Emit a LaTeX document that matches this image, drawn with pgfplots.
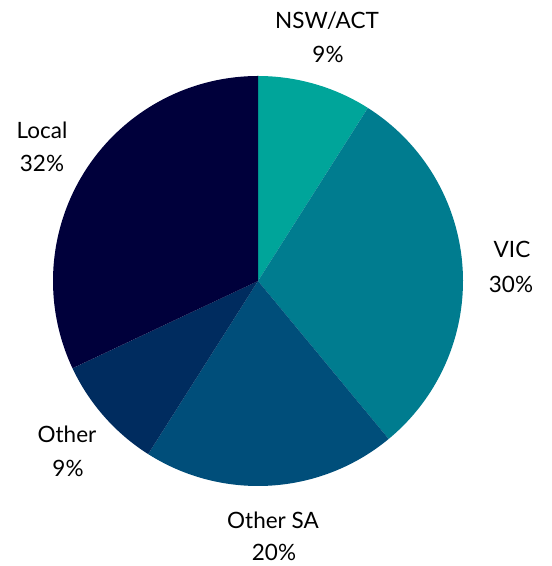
\documentclass[border=0pt]{standalone}
\usepackage{pgfplots}
\pgfplotsset{compat=1.18}
\usepackage{fontspec}
\setmainfont{Lato}
\definecolor{cNSW}{HTML}{00A59A}
\definecolor{cVIC}{HTML}{007C8F}
\definecolor{cOSA}{HTML}{004E7A}
\definecolor{cOth}{HTML}{002C5F}
\definecolor{cLoc}{HTML}{00003B}
\tikzset{lbl/.style={font=\fontsize{22.5}{26}\selectfont, text=black, inner sep=0pt, anchor=base}}
\begin{document}
\begin{tikzpicture}
\begin{axis}[
  x=205pt, y=205pt, scale only axis,
  xmin=-1.2585, xmax=1.4293, ymin=-1.3902, ymax=1.3707,
  hide axis, clip=false,
]
% NSW/ACT 9%, VIC 30%, Other SA 20%, Other 9%, Local 32% (clockwise from top)
\addplot[fill=cNSW, draw=none, domain=57.6:90, samples=40, variable=\t] ({cos(\t)},{sin(\t)}) -- (axis cs:0,0) -- cycle;
\addplot[fill=cVIC, draw=none, domain=-50.4:57.6, samples=80, variable=\t] ({cos(\t)},{sin(\t)}) -- (axis cs:0,0) -- cycle;
\addplot[fill=cOSA, draw=none, domain=-122.4:-50.4, samples=60, variable=\t] ({cos(\t)},{sin(\t)}) -- (axis cs:0,0) -- cycle;
\addplot[fill=cOth, draw=none, domain=-154.8:-122.4, samples=40, variable=\t] ({cos(\t)},{sin(\t)}) -- (axis cs:0,0) -- cycle;
\addplot[fill=cLoc, draw=none, domain=-270:-154.8, samples=80, variable=\t] ({cos(\t)},{sin(\t)}) -- (axis cs:0,0) -- cycle;
\path (rel axis cs:0,0) rectangle (rel axis cs:1,1);
\node[lbl] at (axis cs:0.3366,1.2293) {NSW/ACT};
\node[lbl] at (axis cs:0.3415,1.0634) {9\%};
\node[lbl] at (axis cs:1.239,0.1122) {VIC};
\node[lbl] at (axis cs:1.234,-0.0585) {30\%};
\node[lbl] at (axis cs:0.0732,-1.2049) {Other SA};
\node[lbl] at (axis cs:0.078,-1.3636) {20\%};
\node[lbl] at (axis cs:-0.9317,-0.7902) {Other};
\node[lbl] at (axis cs:-0.9268,-0.9512) {9\%};
\node[lbl] at (axis cs:-1.0537,0.6927) {Local};
\node[lbl] at (axis cs:-1.0537,0.5317) {32\%};
\end{axis}
\end{tikzpicture}
\end{document}
